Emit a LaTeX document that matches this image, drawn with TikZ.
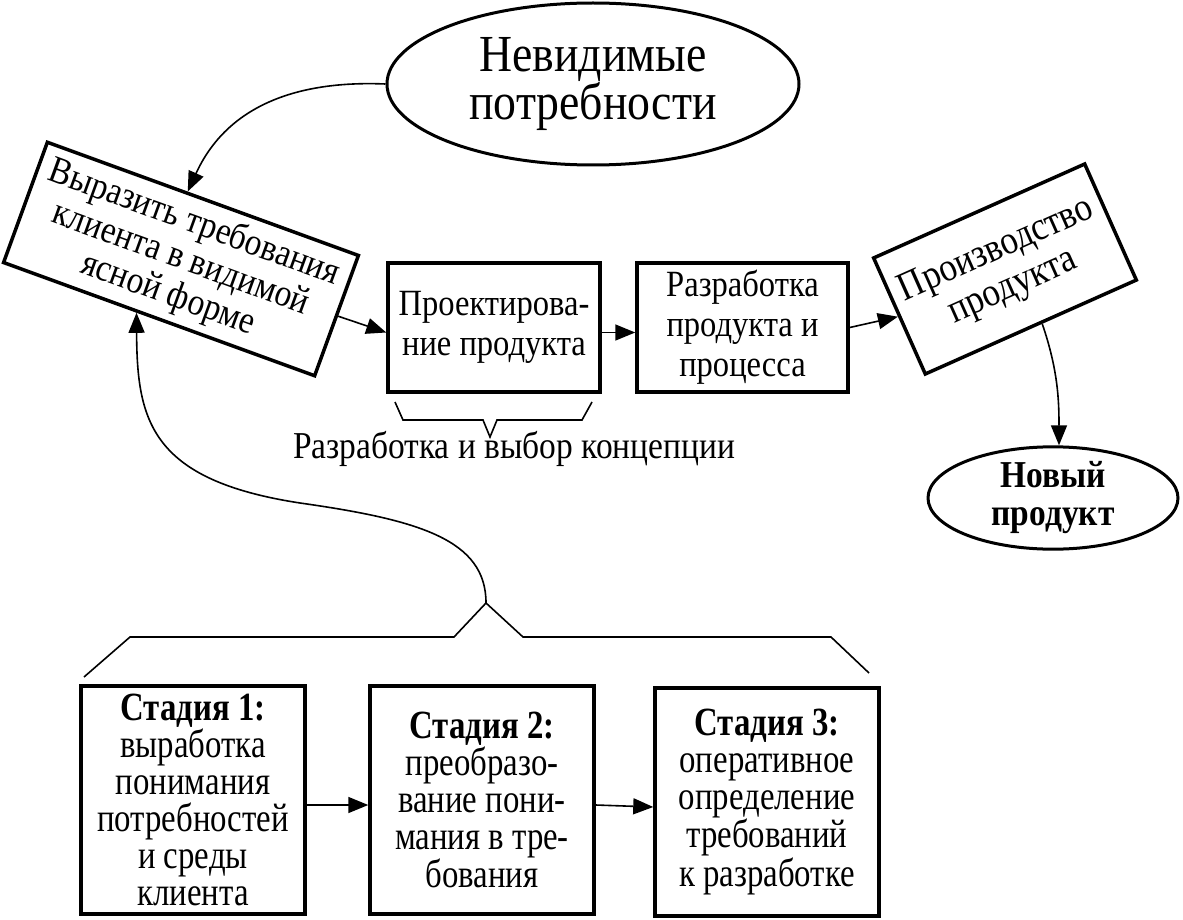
\documentclass[tikz,border=0pt]{standalone}
\usepackage{fontspec}
\setmainfont{Liberation Serif}[FakeStretch=0.88]
\newfontfamily\narrowserif{Liberation Serif}[FakeStretch=0.82]
\usetikzlibrary{arrows.meta,shapes.geometric,calc}

\begin{document}
\begin{tikzpicture}[
        x=1pt, y=-1pt,
        conn/.style={line width=1.6pt, -{Triangle[length=20pt,width=16pt]}},
        box/.style={draw, line width=3.5pt, align=center, inner sep=0pt},
        oval/.style={draw, ellipse, line width=3pt, align=center, inner sep=0pt},
        stage/.style={box, minimum width=224pt, minimum height=228pt,
            font=\narrowserif\fontsize{40}{37}\selectfont},
    ]
    \useasboundingbox (0, 0) rectangle (1183, 920);

    % upper row
    \node[oval, minimum width=412pt, minimum height=162pt, font=\fontsize{52}{48}\selectfont]
        (need) at (593, 84) {Невидимые\\потребности};
    \node[box, rotate=-20, minimum width=331pt, minimum height=128pt, font=\fontsize{38}{38}\selectfont]
        (express) at (181, 259) {Выразить требования\\клиента в видимой\\ясной форме};
    \node[box, minimum width=212pt, minimum height=129pt, font=\fontsize{37}{40}\selectfont]
        (design) at (494, 327.5) {Проектирова-\\ние продукта};
    \node[box, minimum width=211pt, minimum height=129pt, font=\fontsize{37}{40}\selectfont]
        (develop) at (742.5, 327.5) {Разработка\\продукта и\\процесса};
    \node[box, rotate=24, minimum width=231pt, minimum height=127pt, font=\fontsize{40}{40}\selectfont]
        (produce) at (1005, 269) {Производство\\продукта};
    \node[oval, minimum width=250pt, minimum height=100pt, font=\bfseries\fontsize{38}{38}\selectfont]
        (newprod) at (1053, 498) {Новый\\продукт};

    \draw[line width=1.6pt] (395, 402) -- (403, 420) -- (483, 420) -- (490, 437)
        -- (497, 420) -- (582, 420) -- (592, 402);
    \node[font=\fontsize{38}{40}\selectfont] (concept) at (514, 449) {Разработка и выбор концепции};

    \draw[conn] (need.west) .. controls (290, 80) and (225, 110)
        .. ($(express.north west)!0.45!(express.north east)$);
    \draw[conn] (express.east) -- ([yshift=-5pt]design.west);
    \draw[conn] ([yshift=-5pt]design.east) -- ([yshift=-5pt]develop.west);
    \draw[conn] (develop.east) -- (produce.west);
    \draw[conn] ($(produce.south west)!0.55!(produce.south east)$) .. controls (1058, 370) and (1059, 400)
        .. ([xshift=6pt]newprod.north);

    % lower row
    \node[stage] (stage1) at (193, 800)
        {\textbf{Стадия 1:}\\выработка\\понимания\\потребностей\\и среды\\клиента};
    \node[stage] (stage2) at (482, 800)
        {\textbf{Стадия 2:}\\преобразо-\\вание пони-\\мания в тре-\\бования};
    \node[stage] (stage3) at (767, 802)
        {\textbf{Стадия 3:}\\оперативное\\определение\\требований\\к разработке};

    \draw[conn] ([yshift=-5pt]stage1.east) -- ([yshift=-5pt]stage2.west);
    \draw[conn] ([yshift=-5pt]stage2.east) -- ([yshift=-5pt]stage3.west);

    \coordinate (apex) at (486, 603);
    \draw[line width=1.6pt] (84, 677) -- (130, 637) -- (454, 637) -- (apex)
        -- (523, 637) -- (831, 637) -- (869, 673);
    \draw[conn] (apex) .. controls (486, 540) and (420, 520) .. (300, 503)
        .. controls (150, 480) and (137, 420)
        .. ($(express.south west)!0.43!(express.south east)$);
\end{tikzpicture}
\end{document}
